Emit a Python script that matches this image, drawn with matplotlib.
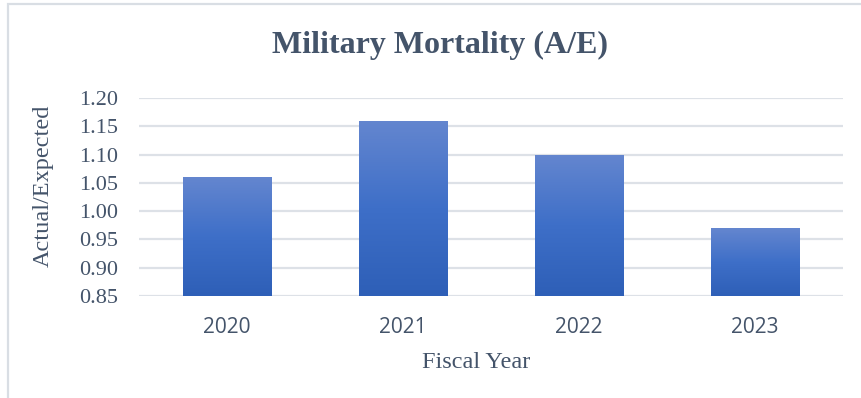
import matplotlib

matplotlib.use("Agg")
import matplotlib.pyplot as plt  # noqa: E402
import numpy as np  # noqa: E402
from matplotlib.colors import LinearSegmentedColormap  # noqa: E402
from matplotlib.patches import Rectangle  # noqa: E402

years = ["2020", "2021", "2022", "2023"]
ae_ratio = [1.06, 1.16, 1.10, 0.97]
y_ticks = [0.85, 0.90, 0.95, 1.00, 1.05, 1.10, 1.15, 1.20]

TEXT = "#44546A"
GRID = "#DDE1E7"
SERIF = "Liberation Serif"

W, H = 861, 398
fig = plt.figure(figsize=(W / 100, H / 100), dpi=100)
ax = fig.add_axes([139 / W, 1 - 296 / H, (843 - 139) / W, (296 - 98) / H])

y_min, y_max = y_ticks[0], y_ticks[-1]
x = np.arange(len(years))
bars = ax.bar(x, [v - y_min for v in ae_ratio], bottom=y_min, width=0.505,
              color="#3F6FC6", zorder=3)

# vertical gradient per bar, lighter at the top
grad = LinearSegmentedColormap.from_list("bar", ["#2E5FB7", "#3E6FC8", "#6486CF"])
for b in bars:
    x0, y0 = b.get_x(), b.get_y()
    img = ax.imshow(np.linspace(0, 1, 256).reshape(-1, 1), cmap=grad, origin="lower",
                    extent=[x0, x0 + b.get_width(), y0, y0 + b.get_height()],
                    aspect="auto", zorder=4)
    img.set_clip_path(b)

ax.set_xlim(-0.5, len(years) - 0.5)
ax.set_ylim(y_min, y_max)
ax.set_yticks(y_ticks)
ax.set_yticklabels([f"{t:.2f}" for t in y_ticks], family=SERIF, fontsize=16, color=TEXT)
ax.set_xticks(x)
ax.set_xticklabels(years, family="Open Sans", fontsize=15, color=TEXT)
ax.tick_params(axis="y", length=0, pad=15)
ax.tick_params(axis="x", length=0, pad=15)
ax.grid(axis="y", color=GRID, linewidth=1.6, zorder=0)
ax.set_axisbelow(True)
for s in ax.spines.values():
    s.set_visible(False)

ax.set_xlabel("Fiscal Year", family=SERIF, fontsize=17.5, color=TEXT)
ax.xaxis.set_label_coords((476 - 139) / (843 - 139), -0.285)
ax.set_ylabel("Actual/Expected", family=SERIF, fontsize=17.5, color=TEXT)
ax.yaxis.set_label_coords(-(139 - 54) / (843 - 139), (296 - 186) / (296 - 98))

fig.text(440 / W, 1 - 45 / H, "Military Mortality (A/E)", family=SERIF,
         fontweight="bold", fontsize=23, color=TEXT, ha="center", va="center")

# chart frame
fig.patches.append(Rectangle((7.5 / W, -0.1), 1.2, 1.1 - 3.5 / H, transform=fig.transFigure,
                             fill=False, edgecolor="#D9DEE4", linewidth=1.6))

fig.savefig("out.png", dpi=100)
